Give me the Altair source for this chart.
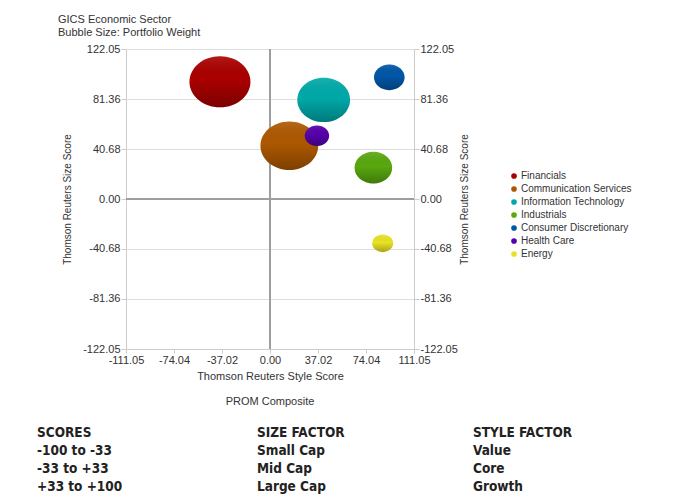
import altair as alt
import pandas as pd

# ---- data ----
sectors = ["Financials", "Communication Services", "Information Technology",
           "Industrials", "Consumer Discretionary", "Health Care", "Energy"]
style_score = [-38.6, 14.9, 41.4, 79.7, 92.0, 36.2, 86.9]
size_score = [95.4, 43.4, 80.6, 25.5, 99.0, 51.5, -36.1]
portfolio_weight = [28.1, 25.2, 21.0, 10.7, 7.1, 4.5, 3.3]
sector_colors = ["#aa0000", "#ad5800", "#00a9a9", "#58a80e", "#0056a6", "#5600ab", "#e8e224"]

x_ticks = [-111.05, -74.04, -37.02, 0.0, 37.02, 74.04, 111.05]
y_ticks = [-122.05, -81.36, -40.68, 0.0, 40.68, 81.36, 122.05]

title_lines = ["GICS Economic Sector", "Bubble Size: Portfolio Weight"]
footer_title = "PROM Composite"
scores_col = ["SCORES", "-100 to -33", "-33 to +33", "+33 to +100"]
size_col = ["SIZE FACTOR", "Small Cap", "Mid Cap", "Large Cap"]
style_col = ["STYLE FACTOR", "Value", "Core", "Growth"]

df = pd.DataFrame({"sector": sectors, "style": style_score,
                   "size": size_score, "weight": portfolio_weight})

FONT = "Liberation Sans, Arial, sans-serif"
ELLIPSE = "M-1,0A1,0.84,0,1,1,1,0A1,0.84,0,1,1,-1,0Z"
LABEL = "replace(format(datum.value, '.2f'), '\u2212', '-')"

xscale = alt.Scale(domain=[-111.05, 111.05], nice=False, zero=False)
yscale = alt.Scale(domain=[-122.05, 122.05], nice=False, zero=False)
sscale = alt.Scale(domain=[0, 28.1], range=[0, 3721])

x_enc = alt.X("style:Q", scale=xscale,
              axis=alt.Axis(values=x_ticks, labelExpr=LABEL, grid=False,
                            title="Thomson Reuters Style Score",
                            domainColor="#cccccc", tickColor="#cccccc", tickSize=4,
                            labelPadding=1, labelFontSize=11, labelColor="#333333",
                            labelFont=FONT, labelFlush=False, labelOverlap=False,
                            titleFont=FONT, titleFontSize=11, titleFontWeight="normal",
                            titleColor="#333333", titlePadding=5))
y_enc = alt.Y("size:Q", scale=yscale,
              axis=alt.Axis(values=y_ticks, labelExpr=LABEL, grid=True, gridColor="#dedede",
                            orient="left", title="Thomson Reuters Size Score",
                            domainColor="#cccccc", tickColor="#cccccc", tickSize=5,
                            labelPadding=1, labelFontSize=11, labelColor="#333333",
                            labelFont=FONT, labelOverlap=False,
                            titleFont=FONT, titleFontSize=10, titleFontWeight="normal",
                            titleColor="#333333", titlePadding=10))
s_enc = alt.Size("weight:Q", scale=sscale, legend=None)

base = alt.Chart(df)

vrule = alt.Chart(pd.DataFrame({"v": [0.0]})).mark_rule(
    color="#9e9e9e", strokeWidth=2).encode(x=alt.X("v:Q", scale=xscale))

bubbles = base.mark_point(shape=ELLIPSE, filled=True, opacity=1, strokeWidth=0).encode(
    x=x_enc, y=y_enc, size=s_enc,
    color=alt.Color("sector:N", sort=sectors,
                    scale=alt.Scale(domain=sectors, range=sector_colors),
                    legend=alt.Legend(title=None, orient="none", legendX=383, legendY=122,
                                      symbolType="circle", symbolSize=32,
                                      labelFontSize=10, labelFont=FONT,
                                      labelColor="#333333", rowPadding=3,
                                      labelOffset=2, symbolStrokeWidth=0)))

shade = base.mark_point(
    shape=ELLIPSE, filled=True, opacity=1, strokeWidth=0,
    fill=alt.Gradient(gradient="linear", x1=0, x2=0, y1=0, y2=1,
                      stops=[alt.GradientStop(color="rgba(255,255,255,0.10)", offset=0),
                             alt.GradientStop(color="rgba(0,0,0,0.0)", offset=0.45),
                             alt.GradientStop(color="rgba(0,0,0,0.28)", offset=1)])
).encode(x=alt.X("style:Q", scale=xscale), y=alt.Y("size:Q", scale=yscale), size=s_enc)

inner = alt.layer(vrule, bubbles, shade)

hrule = alt.Chart(pd.DataFrame({"h": [0.0]})).mark_rule(
    color="#9e9e9e", strokeWidth=2).encode(
    y=alt.Y("h:Q", scale=yscale,
            axis=alt.Axis(values=y_ticks, labelExpr=LABEL, grid=False, orient="right",
                          title="Thomson Reuters Size Score", titleAngle=270,
                          domainColor="#cccccc", tickColor="#cccccc", tickSize=5,
                          labelPadding=1, labelFontSize=11, labelColor="#333333",
                          labelFont=FONT, labelOverlap=False,
                          titleFont=FONT, titleFontSize=10, titleFontWeight="normal",
                          titleColor="#333333", titlePadding=12)))


def text_layer(txt, dx, dy, size, font=FONT, weight="normal", align="left",
               color="#333333", baseline="middle", line_height=None):
    kw = dict(align=align, baseline=baseline, font=font, fontSize=size,
              fontWeight=weight, color=color, lineBreak="\n")
    if line_height:
        kw["lineHeight"] = line_height
    return alt.Chart(pd.DataFrame({"t": [txt]})).mark_text(**kw).encode(
        text="t:N", x=alt.value(dx), y=alt.value(dy))


titles = [text_layer(title_lines[0], -68, -29, 11),
          text_layer(title_lines[1], -68, -16, 11),
          text_layer(footer_title, 144, 353, 11, align="center")]

FOOT = "DejaVu Sans Condensed, Liberation Sans Narrow, sans-serif"
footer = [text_layer("\n".join(col), dx, 377, 13.5, font=FOOT, weight="bold",
                     color="#222222", baseline="top", line_height=18)
          for col, dx in [(scores_col, -89), (size_col, 131), (style_col, 347)]]

chart = alt.layer(hrule, inner, *titles, *footer).resolve_scale(
    y="independent").properties(
    width=288, height=300,
    autosize=alt.AutoSizeParams(type="none"),
    padding={"left": 118, "top": 41, "right": 257, "bottom": 147},
    background="white",
).configure_view(stroke=None)

chart.save("out.html", embed_options={"renderer": "svg", "actions": False})
